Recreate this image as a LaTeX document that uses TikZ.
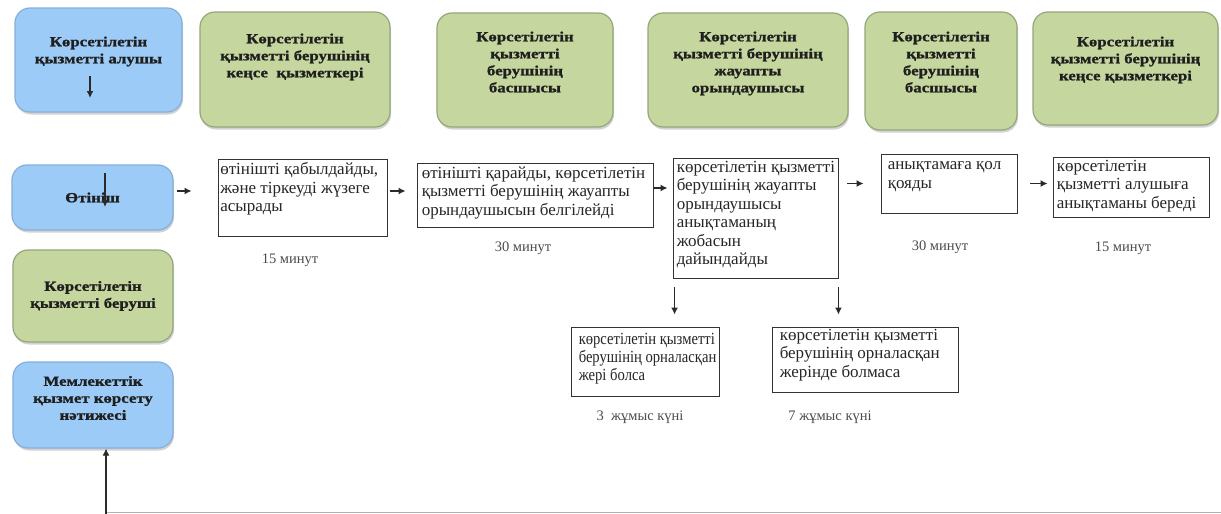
\documentclass[tikz,border=0pt]{standalone}
\usepackage{fontspec}
\setmainfont{Liberation Serif}
\newfontfamily\hdrfont[FakeStretch=1.2, BoldFeatures={FakeBold=1.2}]{Liberation Serif}
\newfontfamily\condfont[FakeStretch=0.86]{Liberation Serif}
\usetikzlibrary{shadows,arrows.meta}
\definecolor{bluefill}{HTML}{9DCBF7}
\definecolor{blueline}{HTML}{86AEDA}
\definecolor{greenfill}{HTML}{C5D79E}
\definecolor{greenline}{HTML}{95A77A}
\definecolor{arrowgray}{HTML}{2A2A2A}
\tikzset{
  rbox/.style={rounded corners=15pt, line width=1.2pt, inner sep=0pt,
    drop shadow={shadow xshift=1pt, shadow yshift=-2.5pt, opacity=0.35, fill=gray}},
  bluebox/.style={rbox, fill=bluefill, draw=blueline},
  greenbox/.style={rbox, fill=greenfill, draw=greenline},
  hdrtext/.style={anchor=north, align=center, inner sep=0pt, text=black!88,
    font=\hdrfont\bfseries\fontsize{14}{17}\selectfont},
  ctrtext/.style={align=center, inner sep=0pt, text=black!88,
    font=\hdrfont\bfseries\fontsize{14}{17}\selectfont},
  pbox/.style={draw=black!80, line width=0.9pt, fill=white, inner sep=0pt},
  ptext/.style={anchor=north west, align=left, inner sep=0pt, text=black!85,
    font=\rmfamily\fontsize{17}{18.5}\selectfont},
  ctext/.style={ptext, font=\condfont\fontsize{17}{18.3}\selectfont},
  timetext/.style={inner sep=0pt, text=black!70, font=\rmfamily\fontsize{14.5}{17}\selectfont},
  arr/.style={draw=arrowgray, line width=1.8pt, -{Latex[length=7pt,width=7pt]}},
}
\begin{document}
\begin{tikzpicture}[x=1pt,y=-1pt]
\useasboundingbox[fill=white] (0,0) rectangle (1221,514);

% header boxes
\node[bluebox, minimum width=167pt, minimum height=104pt] (alushy) at (98.5,60) {};
\node[hdrtext] (alushyt) at ([yshift=-29pt]alushy.north) {Көрсетілетін\\қызметті алушы};
\node[greenbox, minimum width=190pt, minimum height=115pt] (g1) at (295,69.5) {};
\node[hdrtext] (g1t) at ([yshift=-22pt]g1.north) {Көрсетілетін\\қызметті берушінің\\кеңсе\ \ қызметкері};
\node[greenbox, minimum width=176pt, minimum height=114pt] (g2) at (525,70) {};
\node[hdrtext] (g2t) at ([yshift=-19pt]g2.north) {Көрсетілетін\\қызметті\\берушінің\\басшысы};
\node[greenbox, minimum width=200pt, minimum height=114pt] (g3) at (748,70) {};
\node[hdrtext] (g3t) at ([yshift=-19pt]g3.north) {Көрсетілетін\\қызметті берушінің\\жауапты\\орындаушысы};
\node[greenbox, minimum width=152pt, minimum height=118pt] (g4) at (941,71) {};
\node[hdrtext] (g4t) at ([yshift=-20pt]g4.north) {Көрсетілетін\\қызметті\\берушінің\\басшысы};
\node[greenbox, minimum width=185pt, minimum height=113pt] (g5) at (1125.5,68.5) {};
\node[hdrtext] (g5t) at ([yshift=-25pt]g5.north) {Көрсетілетін\\қызметті берушінің\\кеңсе қызметкері};

% left column
\node[bluebox, minimum width=161pt, minimum height=65pt] (otinish) at (92.5,197.5) {};
\node[ctrtext] (otinisht) at (otinish.center) {Өтініш};
\node[greenbox, minimum width=160pt, minimum height=92pt] (berushi) at (93,296) {};
\node[ctrtext] (berushit) at (berushi.center) {Көрсетілетін\\қызметті беруші};
\node[bluebox, minimum width=160pt, minimum height=86pt] (natizhe) at (93,405) {};
\node[ctrtext] (natizhet) at ([yshift=7pt]natizhe.center) {Мемлекеттік\\қызмет көрсету\\нәтижесі};

% small arrows inside blue boxes
\coordinate (a1s) at (90,76);
\coordinate (a1e) at (90,98);
\draw[arr] (a1s) -- (a1e);
\coordinate (a2s) at (105,173);
\coordinate (a2e) at (105,207);
\draw[arr] (a2s) -- (a2e);

% process boxes
\node[pbox, minimum width=169pt, minimum height=77pt] (b1) at (302.5,197.5) {};
\node[ptext] (b1t) at ([xshift=2.5pt,yshift=-4pt]b1.north west) {өтінішті қабылдайды,\\жəне тіркеуді жүзеге\\асырады};
\node[pbox, minimum width=236pt, minimum height=64pt] (b2) at (535,195) {};
\node[ptext] (b2t) at ([xshift=5pt,yshift=-4pt]b2.north west) {өтінішті қарайды, көрсетілетін\\қызметті берушінің жауапты\\орындаушысын белгілейді};
\node[pbox, minimum width=165pt, minimum height=120pt] (b3) at (755.5,218) {};
\node[ptext] (b3t) at ([xshift=4pt,yshift=-3pt]b3.north west) {көрсетілетін қызметті\\берушінің жауапты\\орындаушысы\\анықтаманың\\жобасын\\дайындайды};
\node[pbox, minimum width=136pt, minimum height=59pt] (b4) at (949,183.5) {};
\node[ptext] (b4t) at ([xshift=7pt,yshift=-8pt]b4.north west) {анықтамаға қол\\қояды};
\node[pbox, minimum width=156pt, minimum height=60pt] (b5) at (1131,187) {};
\node[ptext] (b5t) at ([xshift=4pt,yshift=-3pt]b5.north west) {көрсетілетін\\қызметті алушыға\\анықтаманы береді};
\node[pbox, minimum width=148pt, minimum height=69pt] (c1) at (645,361.5) {};
\node[ctext] (c1t) at ([xshift=8pt,yshift=-6pt]c1.north west) {көрсетілетін қызметті\\берушінің орналасқан\\жері болса};
\node[pbox, minimum width=186pt, minimum height=65pt] (c2) at (865,359.5) {};
\node[ptext] (c2t) at ([xshift=8pt,yshift=-2pt]c2.north west) {көрсетілетін қызметті\\берушінің орналасқан\\жерінде болмаса};

% time labels
\node[timetext] (t1) at (290,260) {15 минут};
\node[timetext] (t2) at (523,248) {30 минут};
\node[timetext] (t3) at (940,247) {30 минут};
\node[timetext] (t4) at (1123,248) {15 минут};
\node[timetext] (t5) at (640,417) {3\ \ жұмыс күні};
\node[timetext] (t6) at (830,417) {7 жұмыс күні};

% connectors
\draw[arr, shorten <=3pt, shorten >=26pt] ([yshift=6.5pt]otinish.east) -- ([yshift=6.5pt]otinish.east -| b1.west);
\draw[arr, shorten <=3pt, shorten >=11pt] ([yshift=6.5pt]b1.east) -- ([yshift=6.5pt]b1.east -| b2.west);
\draw[arr, shorten <=1pt, shorten >=5pt] ([yshift=7pt]b2.east) -- ([yshift=7pt]b2.east -| b3.west);
\draw[arr, shorten <=9pt, shorten >=17pt] (b3.east |- b4.west) -- (b4.west);
\draw[arr, shorten <=13pt, shorten >=5pt] (b4.east) -- (b4.east -| b5.west);
\draw[arr, shorten <=9pt, shorten >=12pt] ([xshift=2pt]b3.south west) -- ([xshift=2pt]b3.south west |- c1.north);
\draw[arr, shorten <=9pt, shorten >=12pt] (b3.south east) -- (b3.south east |- c2.north);

% bottom line
\coordinate (corner) at (106,512.5);
\coordinate (rightend) at (1221,512.5);
\coordinate (bottomstart) at (106,514);
\draw[draw=black!30, line width=0.8pt] (corner) -- (rightend);
\draw[arr, line width=1.2pt] (bottomstart) -- (bottomstart |- natizhe.south);
\end{tikzpicture}
\end{document}
